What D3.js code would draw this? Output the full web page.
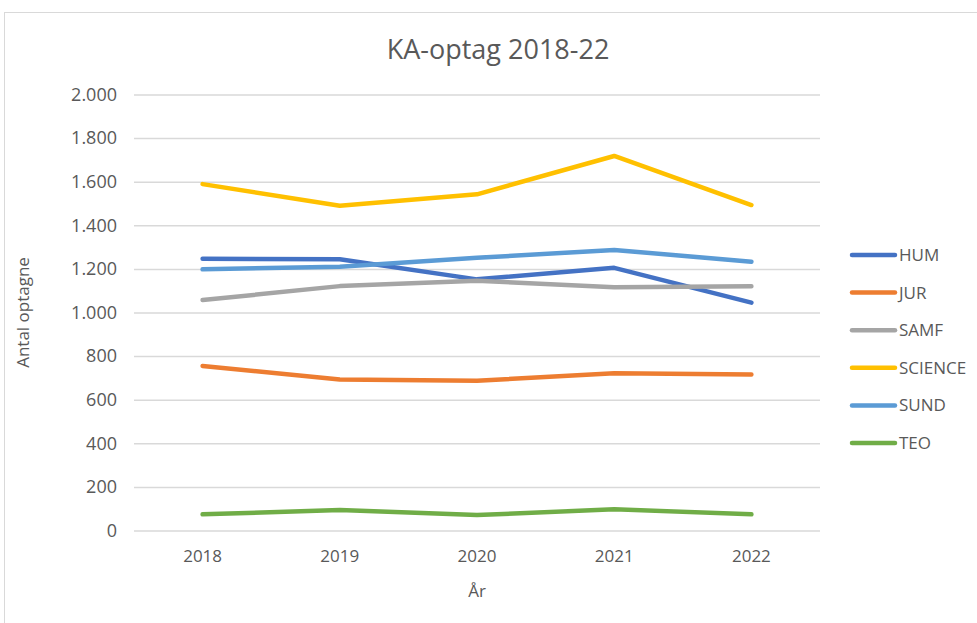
<!DOCTYPE html>
<html>
<head>
<meta charset="utf-8">
<script src="https://cdn.jsdelivr.net/npm/d3@7"></script>
<style>
  body { margin: 0; background: #fff; }
  text { font-family: "Open Sans", sans-serif; fill: #595959; }
</style>
</head>
<body>
<div id="chart"></div>
<script>
// data
const years = ["2018", "2019", "2020", "2021", "2022"];
const yTicks = [0, 200, 400, 600, 800, 1000, 1200, 1400, 1600, 1800, 2000];
const HUM = [1247, 1244, 1152, 1205, 1045];
const JUR = [755, 693, 687, 721, 716];
const SAMF = [1057, 1121, 1146, 1116, 1120];
const SCIENCE = [1589, 1490, 1542, 1718, 1493];
const SUND = [1198, 1210, 1251, 1287, 1233];
const TEO = [74, 94, 71, 97, 74];

const series = [
  { name: "HUM", values: HUM, color: "#4472C4" },
  { name: "JUR", values: JUR, color: "#ED7D31" },
  { name: "SAMF", values: SAMF, color: "#A5A5A5" },
  { name: "SCIENCE", values: SCIENCE, color: "#FFC000" },
  { name: "SUND", values: SUND, color: "#5B9BD5" },
  { name: "TEO", values: TEO, color: "#70AD47" }
];

const width = 977, height = 623;
const margin = { top: 94.5, left: 134, right: 157, bottom: 92.5 };
const plotW = width - margin.left - margin.right;
const plotH = height - margin.top - margin.bottom;

const da = d3.formatLocale({ decimal: ",", thousands: ".", grouping: [3], currency: ["", ""] });
const fmt = da.format(",d");

const svg = d3.select("#chart").append("svg")
  .attr("width", width)
  .attr("height", height);

// outer chart frame
svg.append("rect")
  .attr("x", 4.5).attr("y", 12.5)
  .attr("width", width + 10).attr("height", height + 10)
  .attr("fill", "none")
  .attr("stroke", "#d9d9d9");

const x = d3.scaleBand().domain(years).range([0, plotW]);
const y = d3.scaleLinear().domain([0, 2000]).range([plotH, 0]);

const g = svg.append("g")
  .attr("transform", "translate(" + margin.left + "," + margin.top + ")");

// gridlines + y labels
const yAxis = g.append("g")
  .call(d3.axisLeft(y).tickValues(yTicks).tickSize(-plotW).tickFormat(fmt).tickPadding(17));
yAxis.select(".domain").remove();
yAxis.selectAll(".tick line").attr("stroke", "#d9d9d9").attr("stroke-width", 1.5);
yAxis.selectAll(".tick text").style("font-size", "18px").attr("fill", "#595959");

// x labels
const xAxis = g.append("g")
  .attr("transform", "translate(0," + plotH + ")")
  .call(d3.axisBottom(x).tickSize(0).tickPadding(19));
xAxis.select(".domain").remove();
xAxis.selectAll(".tick text").style("font-size", "17px").attr("fill", "#595959");

// lines
const line = d3.line()
  .x((d, i) => x(years[i]) + x.bandwidth() / 2)
  .y(d => y(d));

g.selectAll(".series")
  .data(series)
  .enter()
  .append("path")
  .attr("class", "series")
  .attr("d", d => line(d.values))
  .attr("fill", "none")
  .attr("stroke", d => d.color)
  .attr("stroke-width", 4.5)
  .attr("stroke-linecap", "round")
  .attr("stroke-linejoin", "round");

// title
svg.append("text")
  .attr("x", 498)
  .attr("y", 59)
  .attr("text-anchor", "middle")
  .style("font-size", "27px")
  .text("KA-optag 2018-22");

// axis titles
svg.append("text")
  .attr("x", margin.left + plotW / 2)
  .attr("y", 597)
  .attr("text-anchor", "middle")
  .style("font-size", "17px")
  .text("År");

svg.append("text")
  .attr("transform", "translate(29," + (margin.top + plotH / 2) + ") rotate(-90)")
  .attr("text-anchor", "middle")
  .style("font-size", "17px")
  .text("Antal optagne");

// legend
const legend = svg.append("g").attr("transform", "translate(850,255)");
const item = legend.selectAll(".item")
  .data(series)
  .enter()
  .append("g")
  .attr("class", "item")
  .attr("transform", (d, i) => "translate(0," + i * 37.6 + ")");

item.append("line")
  .attr("x1", 2).attr("x2", 45)
  .attr("stroke", d => d.color)
  .attr("stroke-width", 4.5)
  .attr("stroke-linecap", "round");

item.append("text")
  .attr("x", 49)
  .attr("y", 6)
  .style("font-size", "17px")
  .text(d => d.name);
</script>
</body>
</html>
